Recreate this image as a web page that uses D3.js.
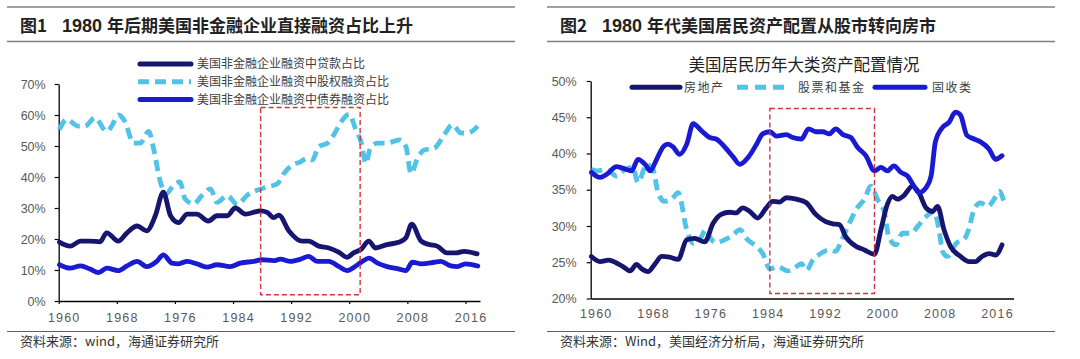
<!DOCTYPE html>
<html><head><meta charset="utf-8">
<script src="https://cdn.jsdelivr.net/npm/d3@7"></script>
<style>
html,body{margin:0;padding:0;background:#fff;}
svg{display:block;}
</style>
</head><body>
<svg id="c" width="1080" height="359"></svg>
<script>
// ---------- Figure 1 data (year, % share) ----------
const titleLeftParts = ["图1", "1980", "年后期美国非金融企业直接融资占比上升"];
const sourceLeft = "资料来源：wind，海通证券研究所";
const leftLegend = ["美国非金融企业融资中贷款占比","美国非金融企业融资中股权融资占比","美国非金融企业融资中债券融资占比"];
const leftYTicks = [0,10,20,30,40,50,60,70];
const xTicks = [1960,1968,1976,1984,1992,2000,2008,2016];

const loanShare = [[1960.1,19],[1961.6,17.7],[1963,19.3],[1964.3,19.3],[1965.7,19.1],[1966.6,22],[1968.2,19.3],[1969.4,22],[1970.8,24.2],[1972.1,22.6],[1973.3,27.5],[1974.4,35.1],[1975.4,27.5],[1976.5,25.3],[1977.7,28],[1979,28],[1980.6,25.8],[1981.8,27.5],[1983.2,27.5],[1984.3,30],[1985.7,28],[1987.8,29.1],[1988.7,28.6],[1989.6,26.9],[1990.3,27.7],[1991.7,22.6],[1993.5,19.3],[1994.4,19.3],[1995.8,17.7],[1997.2,17.1],[1998.6,15.7],[1999.7,14.1],[2000.6,15.5],[2001.6,16.6],[2002.7,19.3],[2003.6,17.1],[2005.2,18.2],[2006.9,19],[2007.8,20.4],[2008.6,24.8],[2009.9,19.3],[2011,18.2],[2012.1,17.7],[2013.5,15.5],[2014.7,15.5],[2015.8,16],[2017.6,15.2]];
const equityShare = [[1960.1,55.3],[1961.1,58.6],[1962.7,56.4],[1963.6,56.4],[1965,59.1],[1966.6,54.7],[1967.3,56.4],[1968.2,60],[1969.1,58],[1970.3,50.9],[1971.2,50.9],[1972.4,54.7],[1973.1,48.7],[1974,38.4],[1974.8,34.6],[1975.8,37.3],[1976.7,38.4],[1977.4,32.9],[1978.6,31.3],[1979.7,34],[1980.9,36.2],[1981.8,31.8],[1983.2,34],[1984.6,31.1],[1985.9,34],[1987.5,35.9],[1988.7,36.8],[1990.1,37.8],[1991,41.1],[1992.1,43.8],[1993.3,44.9],[1994.2,46],[1994.9,45.5],[1995.8,49.8],[1997,50.9],[1997.9,53.7],[1998.8,57.5],[2000,60.2],[2000.9,55.3],[2001.6,51.5],[2002.3,44.4],[2002.9,49.3],[2003.9,50.9],[2005.2,50.9],[2006.9,52],[2007.8,49.8],[2008.5,41.1],[2009.4,46],[2010.3,48.7],[2011.7,49.3],[2013.1,53.7],[2014.2,56.9],[2015.4,54.2],[2016.3,54.2],[2017.7,56.4]];
const bondShare = [[1960.1,11.7],[1961.6,10.6],[1963,11.3],[1964.3,10.3],[1965.5,9.2],[1966.6,10.6],[1968.2,9.8],[1969.4,11.3],[1970.8,12.8],[1972.1,11.1],[1973.5,12.8],[1974.4,14.9],[1975.6,12.2],[1976.5,12],[1977.7,12.8],[1979,12],[1980.4,10.9],[1981.8,11.7],[1983.6,11.1],[1985,12.2],[1986.9,12.8],[1988,13.3],[1989.6,13],[1990.5,13.5],[1991.9,12.8],[1993.3,13.5],[1994.4,14.4],[1995.6,12.8],[1997.2,12.8],[1998.6,11.1],[1999.7,9.8],[2000.9,11.3],[2001.8,12.8],[2002.7,13.8],[2003.9,12.2],[2005.2,11.1],[2006.9,10.3],[2007.8,9.8],[2008.7,12.5],[2009.9,12],[2011.7,12.5],[2012.6,12.8],[2014,11.3],[2014.9,11.1],[2016,12],[2017.7,11.3]];
const leftBox = {x0:1987.8, x1:2001.5, y0:62.4, y1:2};

// ---------- Figure 2 data (year, % share) ----------
const titleRightParts = ["图2", "1980", "年代美国居民资产配置从股市转向房市"];
const sourceRight = "资料来源：Wind，美国经济分析局，海通证券研究所";
const rightChartTitle = "美国居民历年大类资产配置情况";
const rightLegend = ["房地产","股票和基金","固收类"];
const rightYTicks = [20,25,30,35,40,45,50];

const housing = [[1960.1,25.8],[1961.3,25.1],[1962.5,25.3],[1963.6,24.9],[1964.5,24.4],[1965.5,23.8],[1966.4,24.7],[1967.1,24.1],[1968,23.7],[1969,24.8],[1969.9,25.8],[1971,25.7],[1972.2,25.4],[1973.4,28.1],[1974.5,28.3],[1975.9,27.8],[1977.1,30.4],[1978.2,31.6],[1979.4,31.9],[1980.3,31.8],[1981.2,32.5],[1982.2,32],[1983.3,31.1],[1984.5,32.5],[1985.4,33.4],[1986.3,33.3],[1987.3,33.9],[1988.7,33.7],[1990.1,33.2],[1991.4,31.6],[1992.8,30.6],[1993.8,30.3],[1994.7,30.2],[1995.6,28.5],[1997,27.2],[1998.2,26.7],[1999.6,26.1],[2000.5,29.5],[2001.4,33],[2002.1,34.1],[2002.8,33.7],[2003.7,34.2],[2004.9,35.5],[2005.8,34.6],[2006.8,32.5],[2007.7,32],[2008.4,32.7],[2009.3,29.5],[2010.2,27.2],[2011.6,25.8],[2012.8,25.1],[2013.7,25.1],[2014.6,25.8],[2015.6,26.2],[2016.5,26],[2017.4,27.4]];
const stocksFunds = [[1960.1,37.8],[1961,37.6],[1962.2,37.8],[1963.6,36.9],[1964.8,37.8],[1965.9,38.1],[1966.6,36],[1967.8,38.5],[1968.7,37.8],[1969.4,34.6],[1970.3,33.4],[1971.3,33.7],[1972.2,34.6],[1973.4,29.5],[1974.3,27.6],[1975.2,28.1],[1976.1,29.5],[1976.6,28.5],[1977.5,27.7],[1978.7,28.1],[1979.9,28.8],[1980.8,29.5],[1981.9,28.1],[1983.1,27.2],[1984,26.2],[1985,24.1],[1986.1,24.4],[1987.5,23.8],[1988.7,24.4],[1989.4,24.8],[1990.1,23.9],[1991,25.3],[1992.1,26.2],[1993.3,26.7],[1994.2,26.5],[1994.9,27.8],[1996.1,30.4],[1997.2,32.5],[1998.2,33.7],[1999.1,35.5],[2000,33.7],[2001,31.8],[2001.6,28.5],[2002.6,27.4],[2003.5,29],[2004.7,29],[2005.6,29.9],[2006.8,31.3],[2007.9,32],[2008.6,29.5],[2009.1,26.5],[2009.8,25.8],[2011,27.6],[2012.2,28.3],[2012.8,29.7],[2013.5,32.3],[2014.4,33.2],[2015.4,32.7],[2016.3,33.7],[2017,34.8],[2017.7,33.2]];
const fixedIncome = [[1960.1,37.4],[1961.3,36.7],[1962.2,37.1],[1963.6,38.2],[1965,37.8],[1965.7,37.6],[1966.6,39.2],[1967.6,38.5],[1968.3,37.6],[1969.2,39.2],[1970.1,40.9],[1970.8,41.3],[1971.5,40.9],[1972.4,39.9],[1973.4,41.3],[1974.3,44.1],[1975.4,43.2],[1976.6,42.2],[1977.5,42],[1978.7,40.9],[1979.9,39.5],[1980.8,38.5],[1982,39.5],[1983.1,41.2],[1984,42.7],[1985,43],[1985.9,42.4],[1987.3,42.6],[1988.2,42.2],[1989.4,42],[1990.4,43.4],[1991.4,43],[1992.4,43],[1993.3,42.7],[1994.2,43.4],[1995.2,42.6],[1996.3,42.2],[1997.2,40.9],[1998.4,39.7],[1999.6,37.6],[2000.5,38.1],[2001.4,37.6],[2002.3,38.3],[2003.3,37.4],[2004.2,36.9],[2005.1,35.5],[2005.8,34.6],[2006.8,35.3],[2007.5,36.9],[2008.1,41.6],[2009.1,43.6],[2010,44.3],[2010.9,45.7],[2011.6,45.3],[2012.5,42.5],[2013.5,42],[2014.4,41.6],[2015.6,40.6],[2016.5,39.2],[2017.4,39.7]];
const rightBox = {x0:1985, x1:1999.6, y0:46.2, y1:20.7};

// ---------- styles ----------
const NAVY = "#16166e", CYAN = "#52c3e6", BLUE = "#1a1ad2", RED = "#d1343f";
const CJK = "'Noto Sans CJK SC','Noto Sans',sans-serif";
const LAT = "'Liberation Sans',Arial,sans-serif";

const svg = d3.select("#c");

function header(x0, x1, parts, source) {
  svg.append("line").attr("x1",x0).attr("x2",x1).attr("y1",7).attr("y2",7).attr("stroke","#808080").attr("stroke-width",1.5);
  svg.append("line").attr("x1",x0).attr("x2",x1).attr("y1",41.5).attr("y2",41.5).attr("stroke","#808080").attr("stroke-width",1.5);
  const t = svg.append("text").attr("x",x0+13).attr("y",32)
    .attr("font-family",CJK).attr("font-weight","bold").attr("font-size",17).attr("fill","#222");
  t.append("tspan").text(parts[0]);
  t.append("tspan").attr("dx",15).text(parts[1]).attr("font-family",LAT).attr("font-size",18);
  t.append("tspan").attr("dx",5).text(parts[2]);
  svg.append("line").attr("x1",x0).attr("x2",x1).attr("y1",331.5).attr("y2",331.5).attr("stroke","#606060").attr("stroke-width",1);
  svg.append("text").attr("x",x0+13).attr("y",346).text(source)
    .attr("font-family",CJK).attr("font-size",13).attr("fill","#333");
}
header(7, 515, titleLeftParts, sourceLeft);
header(547, 1055, titleRightParts, sourceRight);

function styleAxis(g) {
  g.selectAll("path.domain").attr("stroke","#000").attr("stroke-width",1.3);
  g.selectAll(".tick line").attr("stroke","#000").attr("stroke-width",1.2);
  g.selectAll("text").attr("font-family",LAT).attr("font-size",12.5).attr("fill","#595959");
}

function drawSeries(x, y, data, color, dashed) {
  const line = d3.line().x(d=>x(d[0])).y(d=>y(d[1])).curve(d3.curveMonotoneX);
  const p = svg.append("path").datum(data).attr("d",line).attr("fill","none")
    .attr("stroke",color).attr("stroke-width",4.8).attr("stroke-linejoin","round").attr("stroke-linecap", dashed?"butt":"round");
  if (dashed) p.attr("stroke-dasharray","11,6");
}

function drawBox(x, y, b) {
  svg.append("rect").attr("x",x(b.x0)).attr("y",y(b.y0))
    .attr("width",x(b.x1)-x(b.x0)).attr("height",y(b.y1)-y(b.y0))
    .attr("fill","none").attr("stroke",RED).attr("stroke-width",1.4).attr("stroke-dasharray","5,3");
}

// ---------- Left chart ----------
const xL = d3.scaleLinear().domain([1960,2018]).range([58.7,480]);
const yL = d3.scaleLinear().domain([0,70]).range([301,84]);

const gyL = svg.append("g").attr("transform","translate(58.7,0)")
  .call(d3.axisLeft(yL).tickValues(leftYTicks).tickSize(4).tickSizeOuter(0).tickPadding(9).tickFormat(d=>d+"%"));
styleAxis(gyL);
const gxL = svg.append("g").attr("transform","translate(0,301)")
  .call(d3.axisBottom(xL).tickValues(xTicks).tickSize(3).tickSizeOuter(0).tickPadding(9).tickFormat(d=>d));
styleAxis(gxL);
gxL.selectAll("text").attr("dx",5).attr("letter-spacing",1.2);

drawSeries(xL, yL, equityShare, CYAN, true);
drawSeries(xL, yL, bondShare, BLUE, false);
drawSeries(xL, yL, loanShare, NAVY, false);
drawBox(xL, yL, leftBox);

// left legend
const lcol = [NAVY, CYAN, BLUE];
leftLegend.forEach((t,i)=>{
  const yy = 64 + i*17.7;
  const ln = svg.append("line").attr("x1",140).attr("x2",191).attr("y1",yy).attr("y2",yy)
    .attr("stroke",lcol[i]).attr("stroke-width",5).attr("stroke-linecap", i===1?"butt":"round");
  if (i===1) ln.attr("stroke-dasharray","11,6").attr("x1",138);
  svg.append("text").attr("x",197).attr("y",yy).attr("dy","0.36em").text(t)
    .attr("font-family",CJK).attr("font-size",12).attr("fill","#404040");
});

// ---------- Right chart ----------
const xR = d3.scaleLinear().domain([1960,2019]).range([590.7,1013.5]);
const yR = d3.scaleLinear().domain([20,50]).range([298.5,81]);

const gyR = svg.append("g").attr("transform","translate(590.7,0)")
  .call(d3.axisLeft(yR).tickValues(rightYTicks).tickSize(4).tickSizeOuter(0).tickPadding(10).tickFormat(d=>d+"%"));
styleAxis(gyR);
const gxR = svg.append("g").attr("transform","translate(0,298.5)")
  .call(d3.axisBottom(xR).tickValues(xTicks).tickSize(0).tickSizeOuter(0).tickPadding(11).tickFormat(d=>d));
styleAxis(gxR);
gxR.selectAll("text").attr("dx",5).attr("letter-spacing",1.2);

drawSeries(xR, yR, stocksFunds, CYAN, true);
drawSeries(xR, yR, housing, NAVY, false);
drawSeries(xR, yR, fixedIncome, BLUE, false);
drawBox(xR, yR, rightBox);

svg.append("text").attr("x",804).attr("y",65).attr("dy","0.36em").attr("text-anchor","middle")
  .text(rightChartTitle).attr("font-family",CJK).attr("font-size",16.5).attr("fill","#222");

const rl = [{x1:632,x2:680,c:NAVY,d:false,tx:684},{x1:737,x2:787,c:CYAN,d:true,tx:798},{x1:875,x2:925,c:BLUE,d:false,tx:932}];
rightLegend.forEach((t,i)=>{
  const o = rl[i], yy = 87.3;
  const ln = svg.append("line").attr("x1",o.x1).attr("x2",o.x2).attr("y1",yy).attr("y2",yy)
    .attr("stroke",o.c).attr("stroke-width",5).attr("stroke-linecap","round");
  if (o.d) ln.attr("stroke-dasharray","11,7").attr("stroke-linecap","butt");
  svg.append("text").attr("x",o.tx).attr("y",yy).attr("dy","0.36em").text(t)
    .attr("font-family",CJK).attr("font-size",12).attr("letter-spacing",1.5).attr("fill","#404040");
});
</script>
</body></html>
